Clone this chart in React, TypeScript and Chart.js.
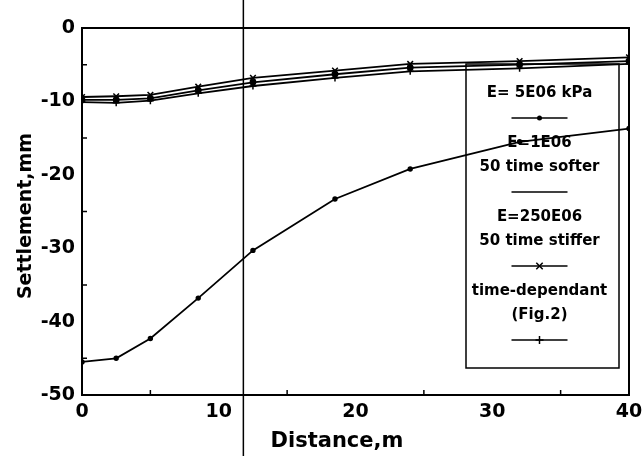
import React, { useEffect, useRef } from "react";
import { Chart, registerables } from "chart.js";

Chart.register(...registerables);

// ---- data ----
const distance = [0, 2.5, 5, 8.5, 12.5, 18.5, 24, 32, 40];
const settle5E06 = [-9.8, -9.8, -9.6, -8.5, -7.4, -6.3, -5.4, -5.0, -4.5];
const settleSofter = [-45.5, -45.0, -42.3, -36.8, -30.3, -23.3, -19.2, -15.5, -13.7];
const settleStiffer = [-9.4, -9.3, -9.1, -8.0, -6.8, -5.8, -4.9, -4.5, -4.0];
const settleTimeDep = [-10.1, -10.2, -9.9, -8.9, -7.9, -6.8, -5.9, -5.5, -4.9];

const seriesLabels = [
  ["E= 5E06 kPa"],
  ["E=1E06", "50 time softer"],
  ["E=250E06", "50 time stiffer"],
  ["time-dependant", "(Fig.2)"],
];
const seriesMarkers = ["circle", "none", "crossRot", "cross"];

const xTickStep = 10;
const yTickStep = 10;
const xMin = 0, xMax = 40, yMin = -50, yMax = 0;
const xMinorTicks = [5, 15, 25, 35];
const yMinorTicks = [-45, -35, -25, -15, -5];
const cutLineX = [11.8];

const xTitle = "Distance,m";
const yTitle = "Settlement,mm";

const FONT = '"DejaVu Sans", "Liberation Sans", Arial, sans-serif';

function drawMarker(ctx: CanvasRenderingContext2D, style: string, x: number, y: number, r: number) {
  ctx.beginPath();
  if (style === "circle") {
    ctx.arc(x, y, r, 0, Math.PI * 2);
    ctx.fill();
    return;
  }
  if (style === "cross") {
    ctx.moveTo(x - r, y); ctx.lineTo(x + r, y);
    ctx.moveTo(x, y - r); ctx.lineTo(x, y + r);
  } else if (style === "crossRot") {
    const d = r * 0.8;
    ctx.moveTo(x - d, y - d); ctx.lineTo(x + d, y + d);
    ctx.moveTo(x - d, y + d); ctx.lineTo(x + d, y - d);
  }
  ctx.stroke();
}

const extrasPlugin = {
  id: "extras",
  afterDraw(chart: any) {
    const { ctx, chartArea: ca, scales } = chart;
    const xs = scales.x, ys = scales.y;
    ctx.save();
    ctx.strokeStyle = "#000";
    ctx.fillStyle = "#000";

    // frame
    ctx.lineWidth = 2;
    ctx.strokeRect(ca.left, ca.top, ca.right - ca.left, ca.bottom - ca.top);

    // minor inward ticks
    ctx.lineWidth = 1.5;
    ctx.beginPath();
    for (const v of yMinorTicks) {
      const y = ys.getPixelForValue(v);
      ctx.moveTo(ca.left, y); ctx.lineTo(ca.left + 5, y);
    }
    for (const v of xMinorTicks) {
      const x = xs.getPixelForValue(v);
      ctx.moveTo(x, ca.bottom); ctx.lineTo(x, ca.bottom - 5);
    }
    ctx.stroke();

    // vertical cut line across the page
    ctx.lineWidth = 1.5;
    ctx.beginPath();
    for (const v of cutLineX) {
      const x = xs.getPixelForValue(v);
      ctx.moveTo(x, 0); ctx.lineTo(x, chart.height);
    }
    ctx.stroke();

    // axis titles
    ctx.font = `bold 21px ${FONT}`;
    ctx.textAlign = "center";
    ctx.textBaseline = "middle";
    ctx.fillText(xTitle, 337, 442);
    ctx.save();
    ctx.translate(26, 216);
    ctx.rotate(-Math.PI / 2);
    ctx.font = `bold 19px ${FONT}`;
    ctx.fillText(yTitle, 0, 0);
    ctx.restore();

    // legend box
    const bl = ca.right - 163, br = ca.right - 10, bt = ca.top + 36, bb = ca.bottom - 27;
    ctx.lineWidth = 1.5;
    ctx.strokeRect(bl, bt, br - bl, bb - bt);
    const cx = (bl + br) / 2 - 3;
    ctx.font = `bold 15px ${FONT}`;
    let y = bt + 29;
    seriesLabels.forEach((lines, i) => {
      lines.forEach((t, j) => {
        ctx.fillText(t, cx, y);
        y += j < lines.length - 1 ? 24 : 25;
      });
      ctx.lineWidth = 1.5;
      ctx.beginPath();
      ctx.moveTo(cx - 28, y); ctx.lineTo(cx + 28, y);
      ctx.stroke();
      ctx.lineWidth = 1.5;
      drawMarker(ctx, seriesMarkers[i], cx, y, seriesMarkers[i] === "circle" ? 2.5 : 4);
      y += 25;
    });

    ctx.restore();
  },
};

function makeData(vals: number[]) {
  return distance.map((x, i) => ({ x, y: vals[i] }));
}

export default function App() {
  const ref = useRef<HTMLCanvasElement | null>(null);
  useEffect(() => {
    if (!ref.current) return;
    const base = {
      borderColor: "#000",
      backgroundColor: "#000",
      pointBorderColor: "#000",
      pointBackgroundColor: "#000",
      borderWidth: 1.8,
      tension: 0,
      fill: false,
    };
    const gridOpts = { display: true, drawOnChartArea: false, drawTicks: false, color: "rgba(0,0,0,0)" };
    const chart = new Chart(ref.current, {
      type: "line",
      data: {
        datasets: [
          { ...base, label: seriesLabels[0].join(" "), data: makeData(settle5E06), pointStyle: "circle", pointRadius: 2.5 },
          { ...base, label: seriesLabels[1].join(" "), data: makeData(settleSofter), pointStyle: "circle", pointRadius: 1.8 },
          { ...base, label: seriesLabels[2].join(" "), data: makeData(settleStiffer), pointStyle: "crossRot", pointRadius: 4, pointBorderWidth: 1.5 },
          { ...base, label: seriesLabels[3].join(" "), data: makeData(settleTimeDep), pointStyle: "cross", pointRadius: 3.5, pointBorderWidth: 1.5 },
        ],
      },
      options: {
        animation: false,
        responsive: false,
        layout: { padding: { top: 28, right: 13, left: 0, bottom: 0 } },
        plugins: { legend: { display: false }, tooltip: { enabled: false } },
        scales: {
          x: {
            type: "linear",
            min: xMin,
            max: xMax,
            ticks: { stepSize: xTickStep, color: "#000", font: { family: FONT, size: 19, weight: "bold" }, padding: 6, maxRotation: 0 },
            grid: gridOpts,
            border: { display: true, color: "#000", width: 2 },
            afterFit(scale: any) {
              scale.height = 61;
              scale.paddingLeft = 0;
              scale.paddingRight = 0;
            },
          },
          y: {
            type: "linear",
            min: yMin,
            max: yMax,
            ticks: { stepSize: yTickStep, color: "#000", font: { family: FONT, size: 19, weight: "bold" }, padding: 7 },
            grid: gridOpts,
            border: { display: true, color: "#000", width: 2 },
            afterFit(scale: any) {
              scale.width = 82;
              scale.paddingTop = 0;
              scale.paddingBottom = 0;
            },
          },
        },
      },
      plugins: [extrasPlugin],
    } as any);
    return () => chart.destroy();
  }, []);
  return (
    <div style={{ position: "fixed", left: 0, top: 0, width: 642, height: 456, background: "#fff" }}>
      <canvas ref={ref} width={642} height={456} />
    </div>
  );
}
